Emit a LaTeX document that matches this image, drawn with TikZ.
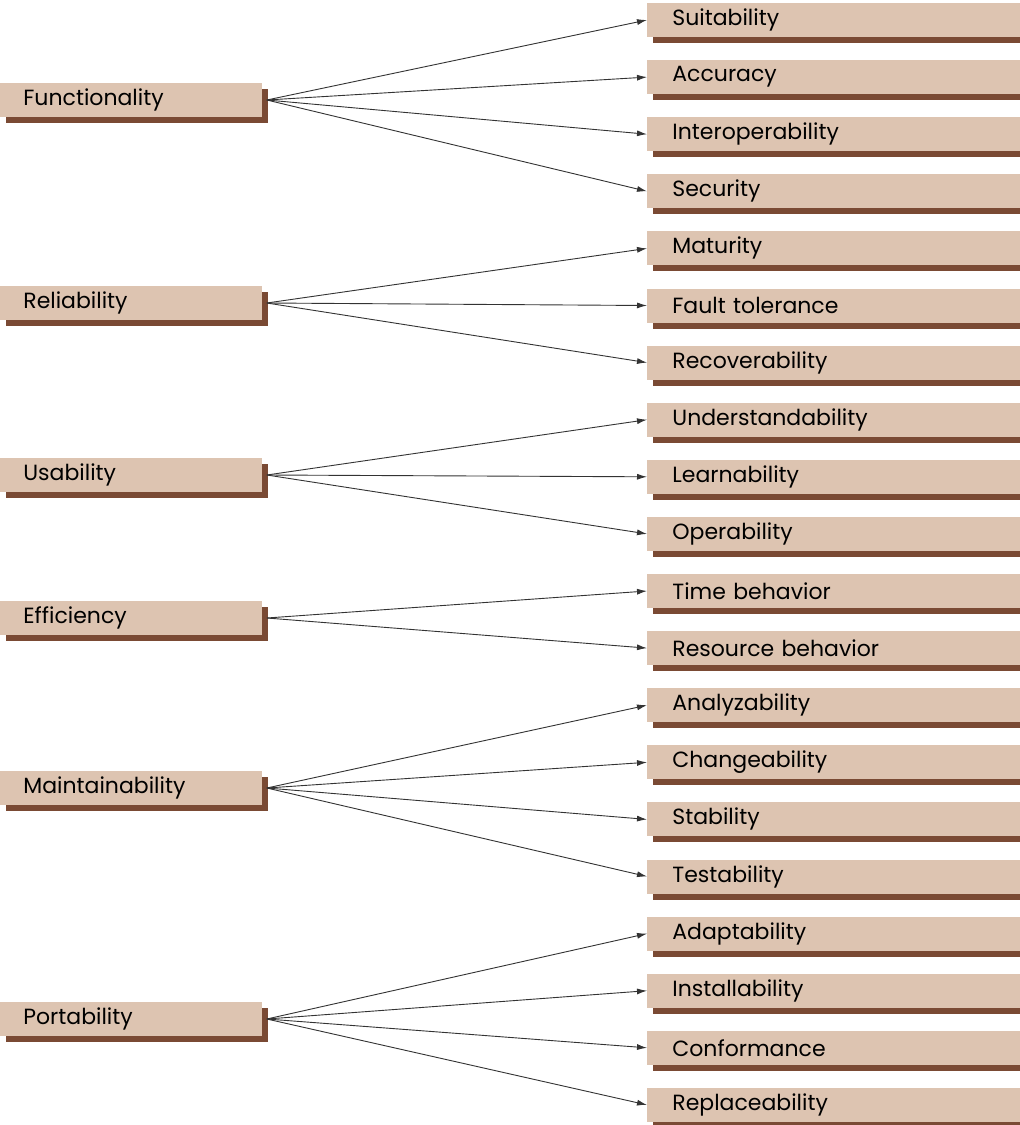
\documentclass[tikz,border=0pt]{standalone}
\usepackage{fontspec}
\setmainfont{Poppins}
\usetikzlibrary{arrows.meta,positioning,shadows}
\definecolor{boxfill}{RGB}{221,196,177}
\definecolor{boxshadow}{RGB}{122,74,52}
\tikzset{
  qbox/.style={fill=boxfill, anchor=west, align=left, minimum height=17pt,
    inner ysep=0pt, font=\fontsize{11}{12}\selectfont,
    drop shadow={shadow xshift=3pt, shadow yshift=-3pt, opacity=1, fill=boxshadow}},
  charbox/.style={qbox, inner xsep=11.5pt, text width=108pt},
  subbox/.style={qbox, inner xsep=12.5pt, text width=200pt},
  link/.style={-{Latex[length=5pt,width=3pt]}, black!80, line width=0.45pt}
}
\begin{document}
\begin{tikzpicture}[x=0.5pt,y=-0.5pt]
\clip (0,0) rectangle (1020,1125);
\fill[white] (0,0) rectangle (1020,1125);

% Characteristics
\node[charbox] (func) at (0,100) {Functionality};
\node[charbox] (reli) at (0,303) {Reliability};
\node[charbox] (usab) at (0,475) {Usability};
\node[charbox] (effi) at (0,618) {Efficiency};
\node[charbox] (main) at (0,788) {Maintainability};
\node[charbox] (port) at (0,1019) {Portability};

% Subcharacteristics
\node[subbox] (suit) at (647,20) {Suitability};
\node[subbox] (accu) at (647,77.1) {Accuracy};
\node[subbox] (inte) at (647,134.2) {Interoperability};
\node[subbox] (secu) at (647,191.3) {Security};
\node[subbox] (matu) at (647,248.4) {Maturity};
\node[subbox] (faul) at (647,305.5) {Fault tolerance};
\node[subbox] (reco) at (647,362.6) {Recoverability};
\node[subbox] (unde) at (647,419.7) {Understandability};
\node[subbox] (lear) at (647,476.8) {Learnability};
\node[subbox] (oper) at (647,533.9) {Operability};
\node[subbox] (time) at (647,591) {Time behavior};
\node[subbox] (reso) at (647,648.1) {Resource behavior};
\node[subbox] (anal) at (647,705.2) {Analyzability};
\node[subbox] (chan) at (647,762.3) {Changeability};
\node[subbox] (stab) at (647,819.4) {Stability};
\node[subbox] (test) at (647,876.5) {Testability};
\node[subbox] (adap) at (647,933.6) {Adaptability};
\node[subbox] (inst) at (647,990.7) {Installability};
\node[subbox] (conf) at (647,1047.8) {Conformance};
\node[subbox] (repl) at (647,1104.9) {Replaceability};

% Links
\draw[link] ([xshift=2pt]func.east) -- (suit.west);
\draw[link] ([xshift=2pt]func.east) -- (accu.west);
\draw[link] ([xshift=2pt]func.east) -- (inte.west);
\draw[link] ([xshift=2pt]func.east) -- (secu.west);
\draw[link] ([xshift=2pt]reli.east) -- (matu.west);
\draw[link] ([xshift=2pt]reli.east) -- (faul.west);
\draw[link] ([xshift=2pt]reli.east) -- (reco.west);
\draw[link] ([xshift=2pt]usab.east) -- (unde.west);
\draw[link] ([xshift=2pt]usab.east) -- (lear.west);
\draw[link] ([xshift=2pt]usab.east) -- (oper.west);
\draw[link] ([xshift=2pt]effi.east) -- (time.west);
\draw[link] ([xshift=2pt]effi.east) -- (reso.west);
\draw[link] ([xshift=2pt]main.east) -- (anal.west);
\draw[link] ([xshift=2pt]main.east) -- (chan.west);
\draw[link] ([xshift=2pt]main.east) -- (stab.west);
\draw[link] ([xshift=2pt]main.east) -- (test.west);
\draw[link] ([xshift=2pt]port.east) -- (adap.west);
\draw[link] ([xshift=2pt]port.east) -- (inst.west);
\draw[link] ([xshift=2pt]port.east) -- (conf.west);
\draw[link] ([xshift=2pt]port.east) -- (repl.west);
\end{tikzpicture}
\end{document}
